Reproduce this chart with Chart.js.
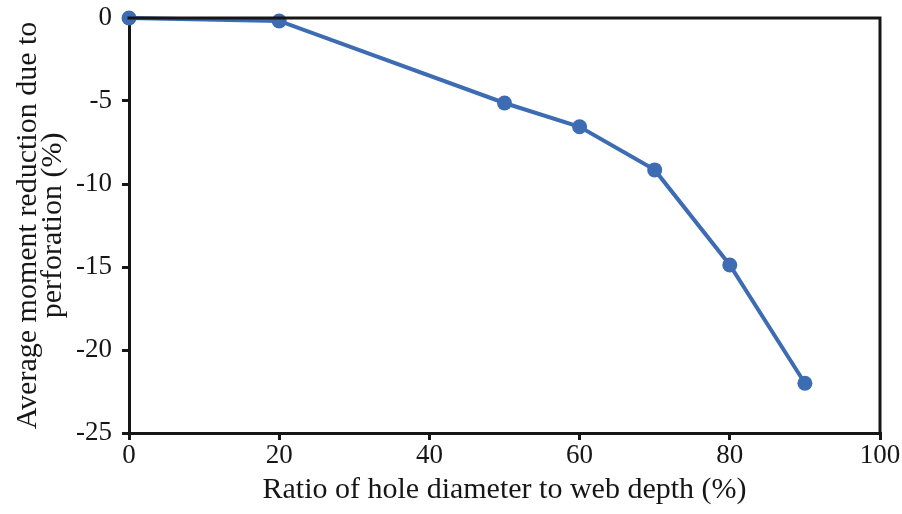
<!DOCTYPE html>
<html>
<head>
<meta charset="utf-8">
<script src="https://cdn.jsdelivr.net/npm/chart.js@4/dist/chart.umd.min.js"></script>
<style>
  html, body { margin: 0; padding: 0; background: #fff; }
  #wrap { width: 902px; height: 514px; }
</style>
</head>
<body>
<div id="wrap"><canvas id="c" width="902" height="514"></canvas></div>
<script>
// Hole diameter / web depth ratio (%)
const holeRatio = [0, 20, 50, 60, 70, 80, 90];
// Average moment reduction due to perforation (%)
const momentReduction = [0, -0.18, -5.12, -6.55, -9.15, -14.88, -22.0];
const xTicks = [0, 20, 40, 60, 80, 100];
const yTicks = [0, -5, -10, -15, -20, -25];

const FONT = "'Liberation Serif', 'Times New Roman', serif";
const LINE_BLUE = '#3d6cb3';
const INK = '#161616';

// Closes the box on the top and right sides of the plotting area
const frame = {
  id: 'frame',
  afterDatasetsDraw(chart) {
    const { ctx, chartArea: a } = chart;
    ctx.save();
    ctx.strokeStyle = INK;
    ctx.lineWidth = 3;
    ctx.lineCap = 'square';
    ctx.beginPath();
    ctx.moveTo(a.left, a.top);
    ctx.lineTo(a.right, a.top);
    ctx.lineTo(a.right, a.bottom);
    ctx.stroke();
    ctx.restore();
  }
};

new Chart(document.getElementById('c'), {
  type: 'line',
  data: {
    datasets: [{
      data: holeRatio.map((x, i) => ({ x, y: momentReduction[i] })),
      borderColor: LINE_BLUE,
      backgroundColor: LINE_BLUE,
      borderWidth: 4,
      pointRadius: 7.5,
      pointHoverRadius: 7.5,
      pointBorderWidth: 0,
      tension: 0,
      clip: false
    }]
  },
  options: {
    responsive: false,
    animation: false,
    layout: { padding: { left: 0, right: 22, top: 18, bottom: 0 } },
    plugins: { legend: { display: false }, tooltip: { enabled: false } },
    scales: {
      x: {
        type: 'linear',
        min: 0, max: 100,
        afterBuildTicks: s => { s.ticks = xTicks.map(v => ({ value: v })); },
        afterFit: s => { s.height = 81; },
        grid: { display: true, drawOnChartArea: false, drawTicks: true, tickLength: 7, color: INK, lineWidth: 3 },
        border: { display: true, color: INK, width: 3 },
        ticks: { color: INK, font: { family: FONT, size: 27 }, padding: 0 },
        title: { display: true, text: 'Ratio of hole diameter to web depth (%)', color: INK, font: { family: FONT, size: 30, lineHeight: 1 }, padding: { top: 0, bottom: 9 } }
      },
      y: {
        type: 'linear',
        min: -25, max: 0,
        afterBuildTicks: s => { s.ticks = yTicks.map(v => ({ value: v })); },
        afterFit: s => { s.width = 129; s.paddingTop = 0; s.paddingBottom = 0; },
        grid: { display: true, drawOnChartArea: false, drawTicks: true, tickLength: 7, color: INK, lineWidth: 3 },
        border: { display: true, color: INK, width: 3 },
        ticks: { color: INK, font: { family: FONT, size: 27 }, padding: 10 },
        title: { display: true, text: ['Average moment reduction due to', 'perforation (%)'], color: INK, font: { family: FONT, size: 30, lineHeight: 0.85 }, padding: { top: 15, bottom: 0 } }
      }
    }
  },
  plugins: [frame]
});
</script>
</body>
</html>
